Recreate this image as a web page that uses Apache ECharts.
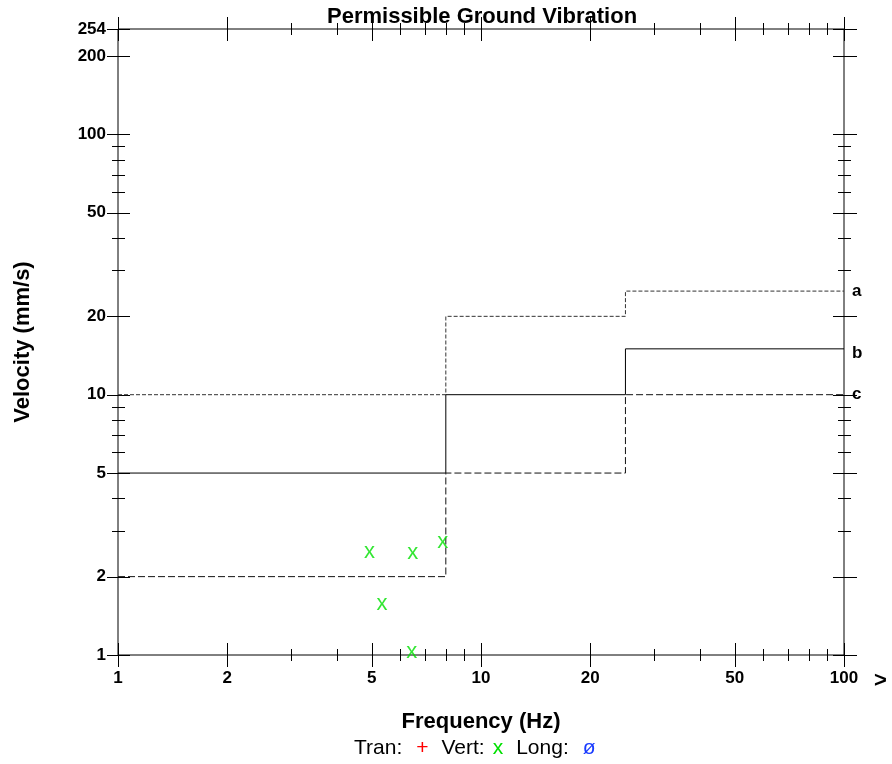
<!DOCTYPE html>
<html>
<head>
<meta charset="utf-8">
<title>Permissible Ground Vibration</title>
<script src="https://cdn.jsdelivr.net/npm/echarts@6/dist/echarts.min.js"></script>
<style>
  html, body { margin: 0; padding: 0; background: #fff; }
  #chart { width: 892px; height: 764px; }
</style>
</head>
<body>
<div id="chart"></div>
<script>
// limit curves: velocity (mm/s) from each frequency break onwards
const freqBreaks = [1, 8, 25, 100]
const curveA = [10, 20, 25, 25]
const curveB = [5, 10, 15, 15]
const curveC = [2, 5, 10, 10]

// measured peaks (vertical component only)
const vertFreq = [4.9, 5.3, 6.45, 7.8, 6.4]
const vertVel = [2.5, 1.58, 2.48, 2.74, 1.04]

// axis ticks
const xMajorTicks = [1, 2, 5, 10, 20, 50, 100]
const xMinorTicks = [3, 4, 6, 7, 8, 9, 30, 40, 60, 70, 80, 90]
const yMajorTicks = [1, 2, 5, 10, 20, 50, 100, 200, 254]
const yMinorTicks = [3, 4, 6, 7, 8, 9, 30, 40, 60, 70, 80, 90]
const xMin = 1, xMax = 100, yMin = 1, yMax = 254

const FONT = "'Liberation Sans', Arial, Helvetica, sans-serif"

function stepData (levels) {
  return freqBreaks.map((f, i) => [f, levels[i]])
}

function crisp (v) {
  return Math.round(v) + 0.5
}

function tickLine (x1, y1, x2, y2) {
  return {
    type: 'line',
    shape: { x1: x1, y1: y1, x2: x2, y2: y2 },
    style: { stroke: '#000', lineWidth: 1 }
  }
}

// ticks cross the frame on both sides, mirrored on top / right
function renderXTick (params, api) {
  let v = api.value(0)
  let major = api.value(2) === 1
  let bot = api.coord([v, yMin])
  let top = api.coord([v, yMax])
  let x = crisp(bot[0])
  let h = major ? 12 : 6
  let children = [
    tickLine(x, bot[1] - h, x, bot[1] + h),
    tickLine(x, top[1] - h, x, top[1] + h)
  ]
  if (major) {
    children.push({
      type: 'text',
      style: {
        text: String(v), x: bot[0], y: bot[1] + 23,
        align: 'center', verticalAlign: 'middle',
        font: 'bold 17px ' + FONT, fill: '#000'
      }
    })
  }
  return { type: 'group', children: children }
}

function renderYTick (params, api) {
  let v = api.value(1)
  let major = api.value(2) === 1
  let left = api.coord([xMin, v])
  let right = api.coord([xMax, v])
  let y = crisp(left[1])
  let children = []
  if (major) {
    children.push(tickLine(left[0] - 11, y, left[0] + 12, y))
    children.push(tickLine(right[0] - 11, y, right[0] + 13, y))
    children.push({
      type: 'text',
      style: {
        text: String(v), x: left[0] - 12, y: left[1],
        align: 'right', verticalAlign: 'middle',
        font: 'bold 17px ' + FONT, fill: '#000'
      }
    })
  } else {
    children.push(tickLine(left[0] - 6, y, left[0] + 7, y))
    children.push(tickLine(right[0] - 6, y, right[0] + 7, y))
  }
  return { type: 'group', children: children }
}

let xTickData = xMajorTicks.map(v => [v, yMin, 1]).concat(xMinorTicks.map(v => [v, yMin, 0]))
let yTickData = yMajorTicks.map(v => [xMin, v, 1]).concat(yMinorTicks.map(v => [xMin, v, 0]))

function limitLine (name, levels, lineType, color, dy) {
  return {
    name: name,
    type: 'line',
    step: 'end',
    symbol: 'none',
    silent: true,
    data: stepData(levels),
    lineStyle: { color: color, width: 1, type: lineType },
    endLabel: {
      show: true,
      formatter: name,
      distance: 8,
      offset: [0, dy],
      color: '#000',
      fontFamily: FONT,
      fontWeight: 'bold',
      fontSize: 17
    },
    z: 3
  }
}

let chart = echarts.init(document.getElementById('chart'))
chart.setOption({
  animation: false,
  backgroundColor: '#fff',
  title: [
    {
      text: 'Permissible Ground Vibration',
      left: 327,
      top: 6,
      padding: 0,
      textStyle: { fontFamily: FONT, fontWeight: 'bold', fontSize: 22, color: '#000' }
    },
    {
      text: '{t|Tran:}{r|+}{t|Vert:}{g|x}{t|Long:}{b|ø}',
      left: 354,
      top: 738,
      padding: 0,
      textStyle: {
        fontWeight: 'normal',
        rich: {
          t: { fontFamily: FONT, fontWeight: 'normal', fontSize: 21, color: '#000' },
          r: { fontFamily: FONT, fontWeight: 'normal', fontSize: 21, color: '#ff0000', padding: [0, 13, 0, 14] },
          g: { fontFamily: FONT, fontWeight: 'normal', fontSize: 21, color: '#00e000', padding: [0, 13, 0, 8] },
          b: { fontFamily: FONT, fontWeight: 'normal', fontSize: 21, color: '#1a3cff', padding: [0, 0, 0, 14] }
        }
      }
    }
  ],
  graphic: [
    {
      type: 'text',
      left: 874,
      top: 670,
      style: { text: '>', font: 'bold 22px ' + FONT, fill: '#000' }
    }
  ],
  grid: {
    left: 118,
    right: 48,
    top: 29,
    bottom: 109,
    show: true,
    borderColor: '#000',
    borderWidth: 1
  },
  xAxis: {
    type: 'log',
    logBase: 10,
    min: xMin,
    max: xMax,
    name: 'Frequency (Hz)',
    nameLocation: 'middle',
    nameGap: 56,
    nameTextStyle: { fontFamily: FONT, fontWeight: 'bold', fontSize: 22, color: '#000' },
    axisLine: { show: false },
    axisTick: { show: false },
    axisLabel: { show: false },
    splitLine: { show: false }
  },
  yAxis: {
    type: 'log',
    logBase: 10,
    min: yMin,
    max: yMax,
    name: 'Velocity (mm/s)',
    nameLocation: 'middle',
    nameGap: 84,
    nameTextStyle: { fontFamily: FONT, fontWeight: 'bold', fontSize: 22, color: '#000' },
    axisLine: { show: false },
    axisTick: { show: false },
    axisLabel: { show: false },
    splitLine: { show: false }
  },
  series: [
    {
      type: 'custom',
      silent: true,
      clip: false,
      renderItem: renderXTick,
      encode: { x: 0, y: 1 },
      data: xTickData,
      z: 2
    },
    {
      type: 'custom',
      silent: true,
      clip: false,
      renderItem: renderYTick,
      encode: { x: 0, y: 1 },
      data: yTickData,
      z: 2
    },
    limitLine('a', curveA, [4, 2], '#333', 0),
    limitLine('b', curveB, 'solid', '#000', 4),
    limitLine('c', curveC, [7, 3], '#111', 0),
    {
      name: 'Vert',
      type: 'scatter',
      symbol: 'circle',
      symbolSize: 1,
      itemStyle: { color: 'rgba(0,0,0,0)' },
      data: vertFreq.map((f, i) => [f, vertVel[i]]),
      label: {
        show: true,
        position: 'inside',
        formatter: 'x',
        offset: [1, 1],
        fontFamily: FONT,
        fontSize: 22,
        color: '#00e000'
      },
      z: 4
    }
  ]
})
</script>
</body>
</html>
